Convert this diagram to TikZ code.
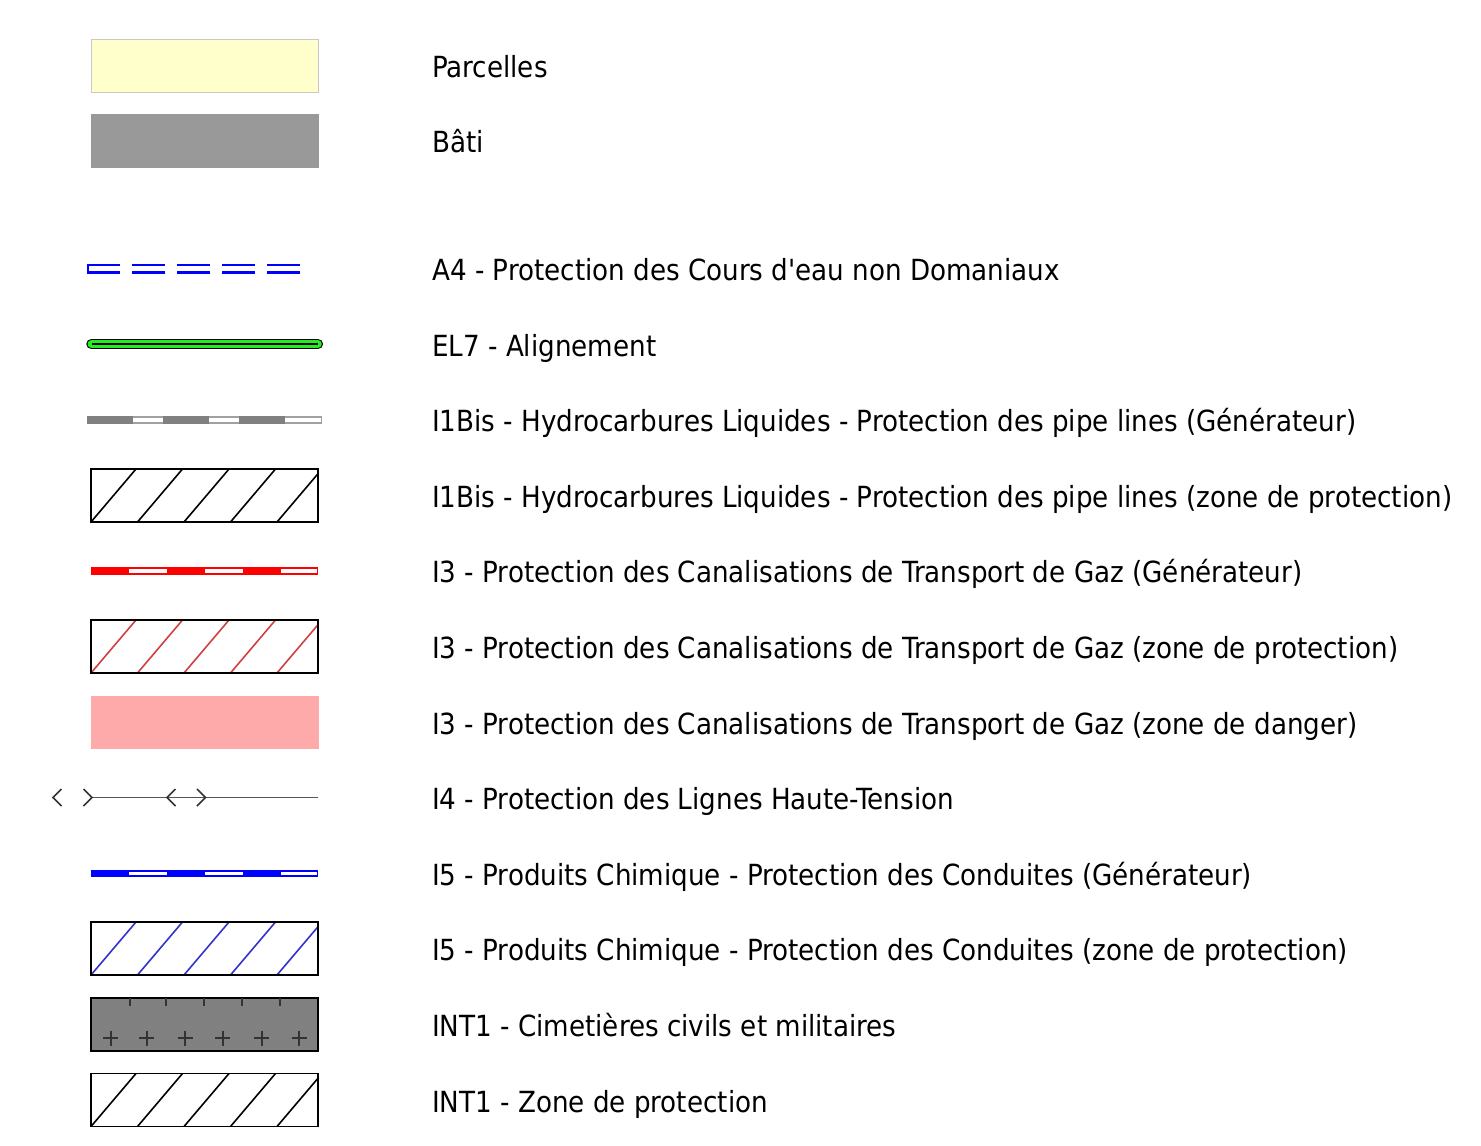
\documentclass[tikz,border=0pt]{standalone}
\usepackage{fontspec}
\setmainfont{DejaVu Sans Condensed}
\definecolor{parcelfill}{HTML}{FFFFCC}
\definecolor{parceldraw}{HTML}{C8C8C8}
\definecolor{batifill}{HTML}{999999}
\definecolor{riverblue}{HTML}{0000FF}
\definecolor{alignGreen}{HTML}{22EE22}
\definecolor{pipegray}{HTML}{808080}
\definecolor{pipelight}{HTML}{A0A0A0}
\definecolor{gasred}{HTML}{FF0000}
\definecolor{hatchred}{HTML}{D04040}
\definecolor{hatchblue}{HTML}{3333CC}
\definecolor{dangerpink}{HTML}{FFAAAA}
\definecolor{wiregray}{HTML}{555555}
\definecolor{cemfill}{HTML}{808080}
\definecolor{cemmark}{HTML}{333333}
\tikzset{
  lbl/.style={anchor=base west, inner sep=0pt, font=\fontsize{29.1}{34}\selectfont},
  boxborder/.style={draw=black, line width=1.8pt},
  hatchstroke/.style={line width=1.6pt},
  markstroke/.style={draw=cemmark, line width=1.7pt},
}
\newcommand\myhatch[2]{%
  \begin{scope}
    \clip (91,#1) rectangle (318,#1+53);
    \foreach \k in {0,...,5}{\draw[hatchstroke,#2] (91+46.5*\k,#1+53) -- ++(45,-53);}
  \end{scope}
  \draw[boxborder] (91,#1) rectangle (318,#1+53);
}
\newcommand\genline[2]{%
  \draw[#2, line width=7.5pt] (91,#1) -- (318,#1);
  \draw[white, line width=3.8pt, dash pattern=on 38pt off 38pt, dash phase=38pt] (91,#1) -- (317,#1);
}
\begin{document}
\begin{tikzpicture}[x=1pt,y=-1pt]
\useasboundingbox (0,0) rectangle (1481,1146);
% Parcelles
\draw[fill=parcelfill, draw=parceldraw, line width=1pt] (91,39) rectangle (318,92);
\node[lbl] (t1) at (432,77) {Parcelles};
% Bati
\fill[batifill] (91,114) rectangle (319,168);
\node[lbl] (t2) at (432,152) {Bâti};
% A4
\foreach \yy in {265,272.5}{\draw[riverblue, line width=2.4pt, dash pattern=on 33pt off 12pt] (87,\yy) -- (301,\yy);}
\draw[riverblue, line width=2.4pt] (88,264) -- (88,273.7);
\node[lbl] (t3) at (432,280) {A4 - Protection des Cours d\textquotesingle eau non Domaniaux};
% EL7
\draw[black, line width=10.5pt, line cap=round] (91.5,344) -- (317.8,344);
\draw[alignGreen, line width=8pt, line cap=round] (91.5,344) -- (317.8,344);
\draw[black, line width=1.4pt] (92,344) -- (318,344);
\node[lbl] (t4) at (432,356) {EL7 - Alignement};
% I1Bis generateur
\draw[pipelight, line width=7.5pt] (87,420) -- (322,420);
\draw[white, line width=4.5pt] (88,420) -- (321,420);
\draw[pipegray, line width=7.5pt, dash pattern=on 45.5pt off 30.5pt] (87,420) -- (285,420);
\node[lbl] (t5) at (432,431) {I1Bis - Hydrocarbures Liquides - Protection des pipe lines (Générateur)};
% I1Bis zone
\myhatch{469}{black}
\node[lbl] (t6) at (432,507) {I1Bis - Hydrocarbures Liquides - Protection des pipe lines (zone de protection)};
% I3 generateur
\genline{571}{gasred}
\node[lbl] (t7) at (432,582) {I3 - Protection des Canalisations de Transport de Gaz (Générateur)};
% I3 zone
\myhatch{620}{hatchred}
\node[lbl] (t8) at (432,658) {I3 - Protection des Canalisations de Transport de Gaz (zone de protection)};
% I3 danger
\fill[dangerpink] (91,696) rectangle (319,749);
\node[lbl] (t9) at (432,734) {I3 - Protection des Canalisations de Transport de Gaz (zone de danger)};
% I4
\draw[wiregray, line width=1.7pt] (92,797.5) -- (318,797.5);
\draw[markstroke] (61.5,789) -- (53,797.5) -- (61.5,806);
\draw[markstroke] (83.5,789) -- (92,797.5) -- (83.5,806);
\draw[markstroke] (175.5,789) -- (167,797.5) -- (175.5,806);
\draw[markstroke] (197,789) -- (205.5,797.5) -- (197,806);
\node[lbl] (t10) at (432,809) {I4 - Protection des Lignes Haute-Tension};
% I5 generateur
\genline{873.5}{riverblue}
\node[lbl] (t11) at (432,885) {I5 - Produits Chimique - Protection des Conduites (Générateur)};
% I5 zone
\myhatch{922}{hatchblue}
\node[lbl] (t12) at (432,960) {I5 - Produits Chimique - Protection des Conduites (zone de protection)};
% INT1 cimetieres
\draw[boxborder, fill=cemfill] (91,998) rectangle (318,1051);
\foreach \xx in {130,166,204,241.7,280}{\draw[markstroke] (\xx,998) -- (\xx,1006);}
\foreach \xx in {110.7,146.7,185,222.7,261.7,299.3}{\draw[markstroke] (\xx-7.5,1038) -- (\xx+7.5,1038) (\xx,1030.5) -- (\xx,1045.5);}
\node[lbl] (t13) at (432,1036) {INT1 - Cimetières civils et militaires};
% INT1 zone
\myhatch{1073.5}{black}
\node[lbl] (t14) at (432,1112) {INT1 - Zone de protection};
\end{tikzpicture}
\end{document}
